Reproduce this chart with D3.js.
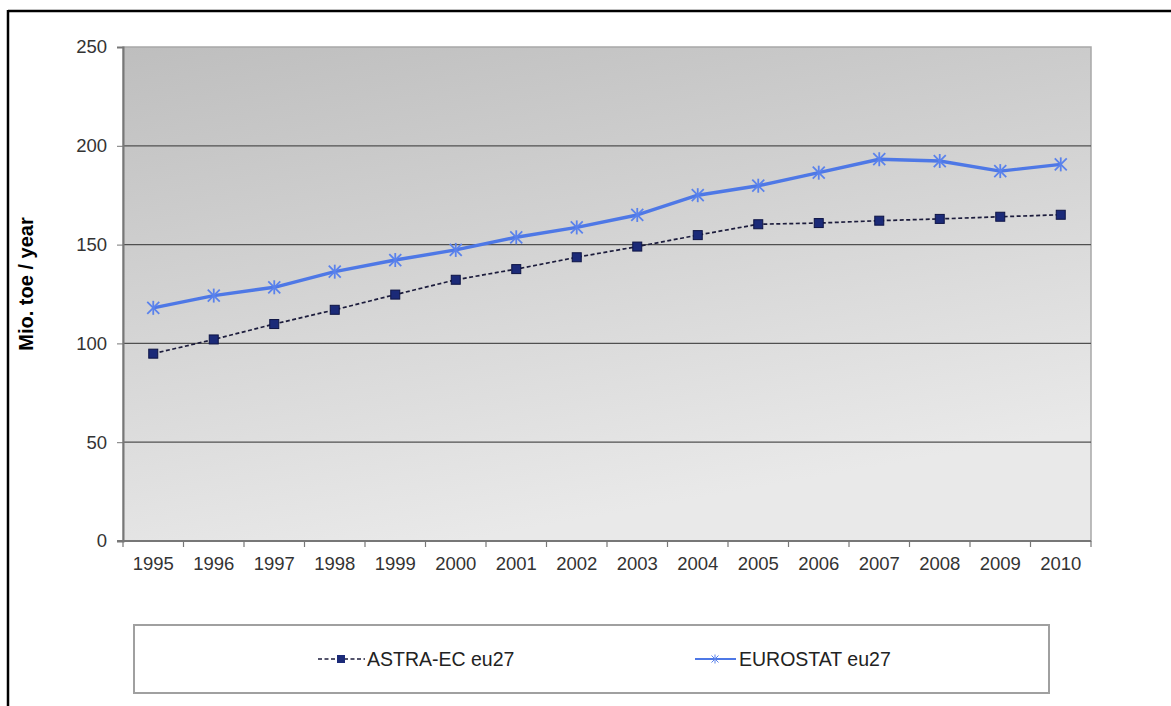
<!DOCTYPE html>
<html>
<head>
<meta charset="utf-8">
<script src="https://cdn.jsdelivr.net/npm/d3@7"></script>
<style>
  html, body { margin: 0; padding: 0; background: #fff; }
  svg { display: block; font-family: "Liberation Sans", Arial, sans-serif; }
</style>
</head>
<body>
<svg id="chart" width="1171" height="706"></svg>
<script>
// Energy consumption, million tonnes of oil equivalent per year
const years = ["1995","1996","1997","1998","1999","2000","2001","2002","2003","2004","2005","2006","2007","2008","2009","2010"];
const astraValues = [94.8, 102, 109.8, 117, 124.7, 132.2, 137.6, 143.6, 149, 154.8, 160.3, 160.9, 162.1, 163, 164.1, 165.1];
const eurostatValues = [118, 124.2, 128.4, 136.3, 142.2, 147.3, 153.7, 158.7, 165, 175, 179.8, 186.4, 193.2, 192.3, 187.2, 190.6];
const yTicks = [0, 50, 100, 150, 200, 250];
const seriesNames = ["ASTRA-EC eu27", "EUROSTAT eu27"];

const svg = d3.select("#chart");
const plot = { left: 123, right: 1091, top: 47, bottom: 541 };

const x = d3.scaleBand().domain(years).range([plot.left, plot.right]);
const y = d3.scaleLinear().domain([0, 250]).range([plot.bottom, plot.top]);

// outer frame (top and left edges)
svg.append("line").attr("x1", 8).attr("x2", 1171).attr("y1", 11).attr("y2", 11)
  .attr("stroke", "#000").attr("stroke-width", 2.5);
svg.append("line").attr("x1", 8).attr("x2", 8).attr("y1", 10).attr("y2", 706)
  .attr("stroke", "#000").attr("stroke-width", 2.5);

// plot background gradient
const defs = svg.append("defs");
const grad = defs.append("linearGradient").attr("id", "bg")
  .attr("x1", 0).attr("y1", 0).attr("x2", 0.35).attr("y2", 1);
grad.append("stop").attr("offset", 0).attr("stop-color", "#bebebe");
grad.append("stop").attr("offset", 1).attr("stop-color", "#e9e9e9");

svg.append("rect")
  .attr("x", plot.left).attr("y", plot.top)
  .attr("width", plot.right - plot.left).attr("height", plot.bottom - plot.top)
  .attr("fill", "url(#bg)")
  .attr("stroke", "#a8a8a8").attr("stroke-width", 1.5);

// horizontal gridlines
svg.append("g").selectAll("line")
  .data(yTicks.filter(d => d > 0 && d < 250))
  .join("line")
  .attr("x1", plot.left).attr("x2", plot.right)
  .attr("y1", d => y(d)).attr("y2", d => y(d))
  .attr("stroke", "#505050").attr("stroke-width", 1.3);

// y axis
const yAxis = svg.append("g")
  .attr("transform", `translate(${plot.left},0)`)
  .call(d3.axisLeft(y).tickValues(yTicks).tickSize(6).tickPadding(10));
yAxis.select(".domain").attr("stroke", "#777").attr("stroke-width", 2);
yAxis.selectAll(".tick line").attr("stroke", "#777");
yAxis.selectAll(".tick text").attr("fill", "#333").style("font-size", "18.5px")
  .style("font-family", "Liberation Sans, Arial, sans-serif");

// x axis with ticks between categories
const xAxisG = svg.append("g").attr("transform", `translate(0,${plot.bottom})`);
xAxisG.append("line").attr("x1", plot.left - 6).attr("x2", plot.right)
  .attr("stroke", "#777").attr("stroke-width", 2);
const bounds = years.map(d => x(d)).concat([plot.right]);
xAxisG.selectAll(".sep").data(bounds).join("line").attr("class", "sep")
  .attr("x1", d => d).attr("x2", d => d).attr("y1", 0).attr("y2", 6)
  .attr("stroke", "#777").attr("stroke-width", 1.2);
xAxisG.selectAll("text").data(years).join("text")
  .attr("x", d => x(d) + x.bandwidth() / 2).attr("y", 29)
  .attr("text-anchor", "middle").attr("fill", "#333")
  .style("font-size", "18.5px").text(d => d);

// y axis title
svg.append("text")
  .attr("transform", "translate(33,284) rotate(-90)")
  .attr("text-anchor", "middle")
  .style("font-size", "20px").style("font-weight", "bold")
  .attr("fill", "#000")
  .text("Mio. toe / year");

const cx = d => x(d) + x.bandwidth() / 2;

// ASTRA-EC series: dashed dark line with square markers
const astraData = years.map((d, i) => ({ year: d, v: astraValues[i] }));
svg.append("path").datum(astraData)
  .attr("fill", "none").attr("stroke", "#1c1c3c").attr("stroke-width", 1.7)
  .attr("stroke-dasharray", "4,2.5")
  .attr("d", d3.line().x(d => cx(d.year)).y(d => y(d.v)));
svg.append("g").selectAll("rect").data(astraData).join("rect")
  .attr("x", d => cx(d.year) - 4.5).attr("y", d => y(d.v) - 4.5)
  .attr("width", 9).attr("height", 9)
  .attr("fill", "#1b2a78").attr("stroke", "#0e1445").attr("stroke-width", 1);

// EUROSTAT series: solid blue line with star markers
const euroData = years.map((d, i) => ({ year: d, v: eurostatValues[i] }));
svg.append("path").datum(euroData)
  .attr("fill", "none").attr("stroke", "#4e78e6").attr("stroke-width", 3.4)
  .attr("stroke-linejoin", "round")
  .attr("d", d3.line().x(d => cx(d.year)).y(d => y(d.v)));

function star(g, px, py, r, color, w) {
  g.append("line").attr("x1", px - r).attr("x2", px + r).attr("y1", py - r).attr("y2", py + r)
    .attr("stroke", color).attr("stroke-width", w);
  g.append("line").attr("x1", px - r).attr("x2", px + r).attr("y1", py + r).attr("y2", py - r)
    .attr("stroke", color).attr("stroke-width", w);
  g.append("line").attr("x1", px).attr("x2", px).attr("y1", py - r - 1).attr("y2", py + r + 1)
    .attr("stroke", color).attr("stroke-width", w);
}
const starG = svg.append("g");
euroData.forEach(d => star(starG, cx(d.year), y(d.v), 6, "#5a82ec", 1.8));

// legend
const lg = svg.append("g");
lg.append("rect").attr("x", 134).attr("y", 625).attr("width", 915).attr("height", 68)
  .attr("fill", "#fff").attr("stroke", "#a0a0a0").attr("stroke-width", 2);

lg.append("line").attr("x1", 318).attr("x2", 365).attr("y1", 659).attr("y2", 659)
  .attr("stroke", "#1c1c3c").attr("stroke-width", 1.3).attr("stroke-dasharray", "4,2.5");
lg.append("rect").attr("x", 337).attr("y", 655).attr("width", 8).attr("height", 8)
  .attr("fill", "#1b2a78");
lg.append("text").attr("x", 367).attr("y", 666).style("font-size", "19.5px")
  .attr("fill", "#222").text(seriesNames[0]);

lg.append("line").attr("x1", 695).attr("x2", 736).attr("y1", 659).attr("y2", 659)
  .attr("stroke", "#4e78e6").attr("stroke-width", 2);
star(lg, 715, 659, 3.5, "#5a82ec", 1);
lg.append("text").attr("x", 739).attr("y", 666).style("font-size", "19.5px")
  .attr("fill", "#222").text(seriesNames[1]);
</script>
</body>
</html>
